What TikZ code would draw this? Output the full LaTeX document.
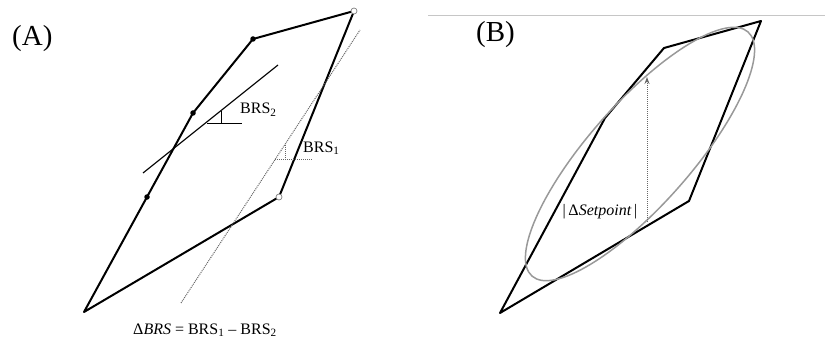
\documentclass[tikz,border=0pt]{standalone}
\usepackage{fontspec}
\setmainfont{Liberation Serif}
\usetikzlibrary{arrows.meta, positioning}

\begin{document}
\begin{tikzpicture}[
            x=1pt, y=-1pt,
            loop/.style={line width=2pt, line join=round},
            tang/.style={line width=1.1pt},
            guide/.style={black!60, densely dotted, line width=1pt},
            ellip/.style={gray!80, line width=1.5pt},
            knot/.style={circle, fill=black, inner sep=0pt, minimum size=5.5pt},
            ends/.style={circle, draw=gray, fill=white, inner sep=0pt,
                         minimum size=6pt, line width=0.7pt},
            lbl/.style={font=\fontsize{16}{18}\selectfont, inner sep=0pt},
            tag/.style={font=\fontsize{29}{32}\selectfont, inner sep=0pt, anchor=west}]

            \useasboundingbox (0,0) rectangle (825,342);

            %% ── Panel A ───────────────────────────────────────────────────
            \coordinate (a1) at (84,312);
            \coordinate (a2) at (193,113);
            \coordinate (a3) at (253,39);
            \coordinate (a4) at (354,11);
            \coordinate (a5) at (279,197);
            \draw[loop] (a1) -- (a2) -- (a3) -- (a4) -- (a5) -- cycle;
            \node[knot] (k1) at (147,197) {};
            \node[knot] (k2) at (a2) {};
            \node[knot] (k3) at (a3) {};
            \node[ends] (e1) at (a4) {};
            \node[ends] (e2) at (a5) {};

            % slopes
            \coordinate (t0) at (143,173);
            \coordinate (t1) at (278,65);
            \draw[tang] (t0) -- (t1);
            \coordinate (h0) at (207,123);
            \coordinate (h1) at (242,123);
            \draw[tang, line width=0.9pt] (h0) -- (h1) (221,123) -- (221,111);

            \coordinate (d0) at (181,303);
            \coordinate (d1) at (360,30);
            \draw[guide] (d0) -- (d1);
            \coordinate (g0) at (275,160);
            \coordinate (g1) at (312,160);
            \draw[guide] (g0) -- (g1) (285,160) -- (285,145);

            %% ── Labels A ──────────────────────────────────────────────────
            \node[tag] (tagA) at (12,39) {(A)};
            \node[lbl, anchor=west] (brs2) at (240,110) {BRS\textsubscript{2}};
            \node[lbl, anchor=west] (brs1) at (303,148) {BRS\textsubscript{1}};
            \node[lbl] (delta) at (205,330)
                {Δ\textit{BRS} = BRS\textsubscript{1} -- BRS\textsubscript{2}};

            %% ── Panel B ───────────────────────────────────────────────────
            \coordinate (r0) at (428,15);
            \coordinate (r1) at (825,15);
            \draw[gray!45, line width=0.8pt] (r0) -- (r1);

            \coordinate (b1) at (500,313);
            \coordinate (b2) at (605,118);
            \coordinate (b3) at (664,48);
            \coordinate (b4) at (761,21);
            \coordinate (b5) at (689,201);
            \draw[loop] (b1) -- (b2) -- (b3) -- (b4) -- (b5) -- cycle;

            \draw[ellip, rotate around={48.5:(640,154)}]
                (640,154) ellipse [x radius=163, y radius=51];

            \coordinate (s0) at (647,222);
            \coordinate (s1) at (647,77);
            \draw[guide, -{Stealth[length=7pt, width=5pt]}] (s0) -- (s1);

            %% ── Labels B ──────────────────────────────────────────────────
            \node[tag] (tagB) at (476,35) {(B)};
            \node[lbl] (setp) at (600,212) {|\,Δ\textit{Setpoint}\,|};

\end{tikzpicture}
\end{document}
